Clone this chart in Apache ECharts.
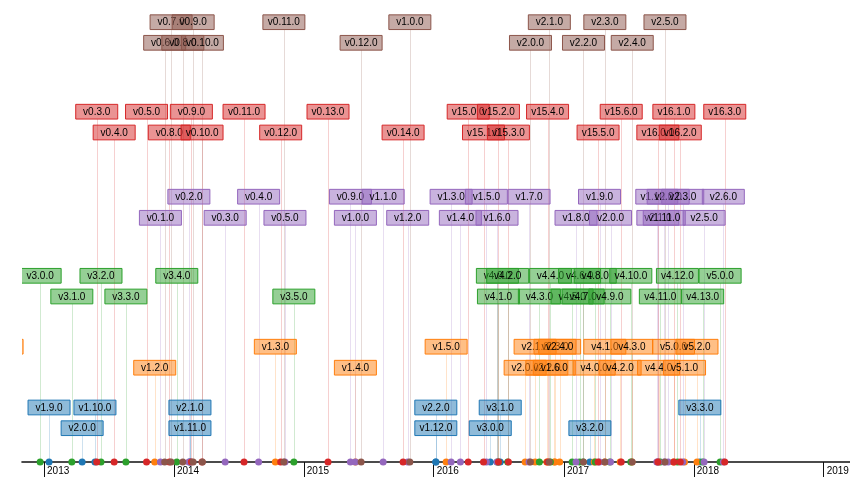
<!DOCTYPE html>
<html>
<head>
<meta charset="utf-8">
<script src="https://cdn.jsdelivr.net/npm/echarts@6/dist/echarts.min.js"></script>
<style>
html,body{margin:0;padding:0;background:#fff;}
#chart{width:850px;height:477px;}
</style>
</head>
<body>
<div id="chart"></div>
<script>
// ---------------- data ----------------
const libraryNames = ['jQuery', 'Angular', 'd3', 'React', 'Polymer', 'Vue'];

const jqueryVersions = ['v1.9.0','v2.0.0','v1.10.0','v1.11.0','v2.1.0','v1.12.0','v2.2.0','v3.0.0','v3.1.0','v3.2.0','v3.3.0'];
const jqueryDates = ['2013-01-15','2013-04-18','2013-05-24','2014-02-15','2014-02-15','2016-01-07','2016-01-07','2016-06-08','2016-07-06','2017-03-15','2018-01-18'];

const angularVersions = ['v1.1.0','v1.2.0','v1.3.0','v1.4.0','v1.5.0','v2.0.0','v2.1.0','v2.2.0','v2.3.0','v1.6.0','v2.4.0','v4.0.0','v4.1.0','v4.2.0','v4.3.0','v4.4.0','v5.0.0','v5.1.0','v5.2.0'];
const angularDates = ['2012-09-05','2013-11-08','2014-10-13','2015-05-26','2016-02-05','2016-09-14','2016-10-12','2016-11-14','2016-12-07','2016-12-05','2016-12-20','2017-03-27','2017-04-26','2017-06-08','2017-07-11','2017-09-24','2017-11-05','2017-12-06','2018-01-10'];

const d3Versions = ['v3.0.0','v3.1.0','v3.2.0','v3.3.0','v3.4.0','v3.5.0','v4.0.0','v4.1.0','v4.2.0','v4.3.0','v4.4.0','v4.5.0','v4.6.0','v4.7.0','v4.8.0','v4.9.0','v4.10.0','v4.11.0','v4.12.0','v4.13.0','v5.0.0'];
const d3Dates = ['2012-12-21','2013-03-20','2013-06-10','2013-08-19','2014-01-09','2014-12-04','2016-06-28','2016-07-01','2016-07-27','2016-10-24','2016-11-24','2017-01-24','2017-02-14','2017-02-24','2017-03-30','2017-05-10','2017-07-08','2017-09-29','2017-11-16','2018-01-26','2018-03-16'];

const reactVersions = ['v0.3.0','v0.4.0','v0.5.0','v0.8.0','v0.9.0','v0.10.0','v0.11.0','v0.12.0','v0.13.0','v0.14.0','v15.0.0','v15.1.0','v15.2.0','v15.3.0','v15.4.0','v15.5.0','v15.6.0','v16.0.0','v16.1.0','v16.2.0','v16.3.0'];
const reactDates = ['2013-05-29','2013-07-17','2013-10-16','2013-12-19','2014-02-19','2014-03-21','2014-07-17','2014-10-28','2015-03-10','2015-10-07','2016-04-07','2016-05-20','2016-07-01','2016-07-29','2016-11-16','2017-04-07','2017-06-11','2017-09-22','2017-11-06','2017-11-24','2018-03-29'];

const polymerVersions = ['v0.1.0','v0.2.0','v0.3.0','v0.4.0','v0.5.0','v0.9.0','v1.0.0','v1.1.0','v1.2.0','v1.3.0','v1.4.0','v1.5.0','v1.6.0','v1.7.0','v1.8.0','v1.9.0','v2.0.0','v1.10.0','v2.1.0','v2.2.0','v1.11.0','v2.3.0','v2.5.0','v2.6.0'];
const polymerDates = ['2013-11-24','2014-02-12','2014-05-25','2014-08-27','2014-11-09','2015-05-12','2015-05-26','2015-08-12','2015-10-20','2016-02-19','2016-03-16','2016-05-28','2016-06-27','2016-09-25','2017-02-04','2017-04-11','2017-05-12','2017-09-19','2017-09-22','2017-10-21','2017-10-10','2017-12-01','2018-01-30','2018-03-25'];

const vueVersions = ['v0.6.0','v0.7.0','v0.8.0','v0.9.0','v0.10.0','v0.11.0','v0.12.0','v1.0.0','v2.0.0','v2.1.0','v2.2.0','v2.3.0','v2.4.0','v2.5.0'];
const vueDates = ['2013-12-06','2013-12-24','2014-01-26','2014-02-24','2014-03-22','2014-11-06','2015-06-11','2015-10-26','2016-09-29','2016-11-21','2017-02-25','2017-04-26','2017-07-12','2017-10-12'];

// ---------------- layout / style (not data) ----------------
const libraries = [
  { name: 'jQuery',  versions: jqueryVersions,  dates: jqueryDates,  color: '#1f77b4', lanes: [54.5, 33.8],  startRow: 0 },
  { name: 'Angular', versions: angularVersions, dates: angularDates, color: '#ff7f0e', lanes: [115.3, 94.3], startRow: 0 },
  { name: 'd3',      versions: d3Versions,      dates: d3Dates,      color: '#2ca02c', lanes: [186.2, 165.5], startRow: 0 },
  { name: 'Polymer', versions: polymerVersions, dates: polymerDates, color: '#9467bd', lanes: [265.3, 244.2], startRow: 1 },
  { name: 'React',   versions: reactVersions,   dates: reactDates,   color: '#d62728', lanes: [350.3, 329.5], startRow: 0 },
  { name: 'Vue',     versions: vueVersions,     dates: vueDates,     color: '#8c564b', lanes: [439.8, 419.2], startRow: 1 }
];

const FONT = '"Liberation Sans", Arial, Helvetica, sans-serif';
const BOX_W = 42, BOX_H = 14.7;

function rgba(hex, a) {
  const n = parseInt(hex.slice(1), 16);
  return 'rgba(' + (n >> 16 & 255) + ',' + (n >> 8 & 255) + ',' + (n & 255) + ',' + a + ')';
}

function buildData(lib) {
  return lib.dates.map((d, i) => [d, lib.lanes[(i + lib.startRow) % 2]]);
}

const series = [];
libraries.forEach(lib => {
  series.push({
    type: 'custom',
    name: lib.name + ' stems',
    clip: false,
    z: 1,
    data: buildData(lib),
    encode: { x: 0, y: 1 },
    renderItem: function (params, api) {
      const base = api.coord([api.value(0), 0]);
      const top = api.coord([api.value(0), api.value(1)]);
      if (base[0] < params.coordSys.x) return null; // outside the plotted range
      const x = Math.round(base[0]) + 0.5;
      return {
        type: 'group',
        children: [
          { type: 'line', shape: { x1: x, y1: top[1] + BOX_H / 2, x2: x, y2: base[1] },
            style: { stroke: rgba(lib.color, 0.22), lineWidth: 1 } },
          { type: 'circle', shape: { cx: base[0], cy: base[1], r: 3.5 },
            style: { fill: lib.color } }
        ]
      };
    }
  });
});
libraries.forEach(lib => {
  series.push({
    type: 'custom',
    name: lib.name,
    clip: true,
    z: 3,
    data: buildData(lib),
    encode: { x: 0, y: 1 },
    renderItem: function (params, api) {
      const p = api.coord([api.value(0), api.value(1)]);
      const label = lib.versions[params.dataIndex];
      return {
        type: 'group',
        children: [
          { type: 'rect',
            shape: { x: p[0] - BOX_W / 2, y: p[1] - BOX_H / 2, width: BOX_W, height: BOX_H },
            style: { fill: rgba(lib.color, 0.5), stroke: lib.color, lineWidth: 1 } },
          { type: 'text',
            style: { text: label, x: p[0], y: p[1] + 0.5, align: 'center', verticalAlign: 'middle',
                     fontSize: 10, fontFamily: FONT, fill: '#000' } }
        ]
      };
    }
  });
});

const chart = echarts.init(document.getElementById('chart'), null, { renderer: 'canvas' });
chart.setOption({
  animation: false,
  backgroundColor: '#fff',
  grid: { left: 22, right: 0, top: 0, bottom: 15, containLabel: false, outerBoundsMode: 'none' },
  xAxis: {
    type: 'time',
    min: new Date(2012, 9, 31).getTime(),
    max: new Date(2019, 2, 16).getTime(),
    minInterval: 365 * 86400000,
    maxInterval: 366 * 86400000,
    axisLine: { show: true, lineStyle: { color: '#111', width: 1.6 } },
    axisTick: { show: true, length: 15, lineStyle: { color: '#111', width: 1 } },
    splitLine: { show: false },
    minorTick: { show: false },
    axisLabel: {
      formatter: function (v) { return String(new Date(v).getFullYear()); },
      align: 'left', verticalAlign: 'top', margin: 4, padding: [0, 0, 0, 3],
      fontSize: 10, color: '#000', fontFamily: FONT, fontWeight: 'normal',
      showMinLabel: false, showMaxLabel: false, hideOverlap: false
    }
  },
  yAxis: { type: 'value', min: 0, max: 462, show: false },
  series: series
});
</script>
</body>
</html>
